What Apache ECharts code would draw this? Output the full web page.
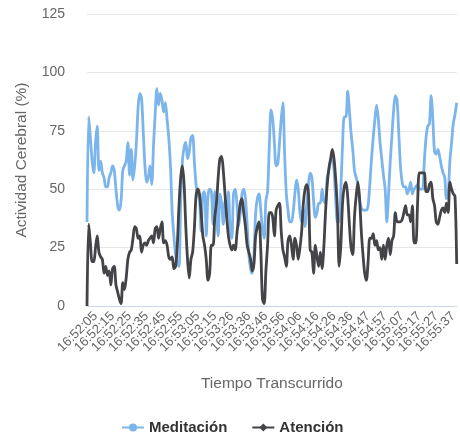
<!DOCTYPE html>
<html>
<head>
<meta charset="utf-8">
<script src="https://cdn.jsdelivr.net/npm/echarts@6/dist/echarts.min.js"></script>
<style>
  html, body { margin: 0; padding: 0; background: #fff; }
  #chart { width: 460px; height: 435px; }
</style>
</head>
<body>
<div id="chart"></div>
<script>
// etiquetas visibles del eje X (una cada 10 muestras, empezando en la muestra 5)
var tickLabels = ['16:52:05', '16:52:15', '16:52:25', '16:52:35', '16:52:45', '16:52:55',
    '16:53:05', '16:53:15', '16:53:26', '16:53:36', '16:53:46', '16:53:56',
    '16:54:06', '16:54:16', '16:54:26', '16:54:36', '16:54:47', '16:54:57',
    '16:55:07', '16:55:17', '16:55:27', '16:55:37'];
var firstTick = 5;
var tickStep = 10;

var meditacion = [
    36, 81, 72, 62, 57, 70, 77, 58, 62, 57, 55, 51, 51, 55, 57, 60, 58, 50, 43, 41,
    45, 58, 60, 62, 70, 56, 67, 54, 60, 70, 85, 91, 89, 75, 60, 53, 55, 60, 52, 68,
    82, 93, 86, 91, 88, 83, 87, 80, 72, 60, 40, 30, 22, 18, 17, 45, 62, 68, 70, 63,
    66, 72, 73, 62, 52, 48, 46, 32, 48, 49, 30, 47, 50, 49, 35, 49, 40, 30, 48, 44,
    35, 45, 38, 49, 33, 29, 48, 50, 44, 34, 40, 48, 50, 46, 35, 22, 16, 14, 22, 40,
    46, 48, 41, 33, 29, 45, 49, 68, 84, 80, 70, 60, 61, 70, 80, 87, 65, 48, 41, 36,
    36, 40, 48, 54, 50, 40, 36, 42, 34, 44, 52, 57, 55, 45, 38, 40, 44, 44, 50, 45,
    44, 55, 58, 62, 63, 58, 45, 36, 36, 50, 69, 81, 81, 92, 84, 74, 67, 58, 55, 52,
    45, 42, 41, 41, 41, 43, 52, 63, 72, 80, 86, 80, 70, 63, 56, 50, 36, 48, 62, 73,
    84, 90, 88, 74, 60, 53, 51, 51, 48, 50, 53, 48, 50, 51, 52, 50, 50, 50, 62, 72,
    77, 78, 90, 80, 66, 65, 67, 64, 60, 57, 55, 46, 48, 62, 70, 78, 82, 87
];
var atencion = [
    0, 35, 27, 19, 19, 25, 30, 23, 21, 20, 14, 17, 13, 15, 9, 16, 17, 9, 6, 3,
    1, 10, 7, 12, 20, 23, 24, 29, 34, 33, 29, 30, 23, 26, 27, 26, 28, 29, 30, 27,
    33, 34, 29, 33, 36, 27, 28, 26, 21, 20, 21, 16, 17, 26, 43, 55, 60, 52, 34, 20,
    12, 20, 23, 33, 47, 50, 48, 40, 30, 26, 20, 11, 14, 26, 26, 38, 44, 55, 63, 64,
    58, 48, 38, 30, 26, 24, 26, 24, 31, 38, 44, 46, 40, 34, 26, 23, 20, 15, 18, 30,
    34, 36, 24, 3, 1, 15, 26, 40, 40, 38, 30, 41, 43, 44, 32, 24, 21, 17, 28, 30,
    26, 20, 29, 26, 20, 25, 32, 44, 50, 52, 48, 24, 23, 14, 26, 21, 17, 23, 16, 25,
    40, 52, 59, 63, 67, 63, 54, 41, 17, 26, 44, 51, 53, 47, 35, 25, 22, 38, 47, 53,
    46, 32, 22, 14, 11, 19, 29, 29, 31, 26, 28, 24, 25, 20, 26, 20, 26, 29, 22, 28,
    30, 40, 36, 36, 36, 37, 40, 43, 39, 39, 36, 43, 27, 27, 43, 57, 57, 57, 57, 49,
    49, 52, 53, 46, 43, 36, 35, 38, 41, 42, 40, 44, 40, 53, 50, 48, 47, 18
];

// categorías: una por muestra, con la hora solo en las posiciones etiquetadas
var categorias = meditacion.map(function (v, i) {
    var k = (i - firstTick) / tickStep;
    return (i >= firstTick && k === Math.floor(k) && tickLabels[k]) ? tickLabels[k] : String(i);
});
var ultimo = categorias.length - 1;

var dom = document.getElementById('chart');
var myChart = echarts.init(dom);

var option = {
    animation: false,
    color: ['#7cb5ec', '#434348'],
    textStyle: { fontFamily: '"Liberation Sans", Arial, sans-serif' },
    grid: {
        left: 87,
        right: 1,
        top: 14,
        bottom: 129
    },
    legend: {
        top: 415,
        left: 116,
        itemGap: 24,
        itemWidth: 22,
        itemHeight: 10,
        textStyle: { color: '#333', fontSize: 15, fontWeight: 'bold' },
        data: ['Meditación', 'Atención']
    },
    xAxis: {
        type: 'category',
        boundaryGap: false,
        data: categorias,
        name: 'Tiempo Transcurrido',
        nameLocation: 'middle',
        nameGap: 70,
        nameTextStyle: { color: '#666', fontSize: 15.5 },
        axisLine: { lineStyle: { color: '#ccd6eb' } },
        axisTick: { show: false },
        axisLabel: {
            rotate: 45,
            color: '#666',
            fontSize: 13,
            margin: 8,
            // los extremos vacíos evitan que se oculten la primera y la última hora
            interval: function (i) {
                return i === 0 || i === ultimo ||
                    (i >= firstTick && (i - firstTick) % tickStep === 0);
            },
            formatter: function (value, i) {
                return (i === 0 || i === ultimo) ? '' : value;
            }
        },
        splitLine: { show: false }
    },
    yAxis: {
        type: 'value',
        min: 0,
        max: 125,
        interval: 25,
        name: 'Actividad Cerebral (%)',
        nameLocation: 'middle',
        nameGap: 57,
        nameTextStyle: { color: '#666', fontSize: 15.5 },
        axisLine: { show: false },
        axisTick: { show: false },
        axisLabel: { color: '#666', fontSize: 14, margin: 22 },
        splitLine: { lineStyle: { color: '#e6e6e6' } }
    },
    series: [
        {
            name: 'Meditación',
            type: 'line',
            data: meditacion,
            symbol: 'circle',
            symbolSize: 9,
            showSymbol: false,
            smooth: 0.3,
            lineStyle: { width: 2.8 }
        },
        {
            name: 'Atención',
            type: 'line',
            data: atencion,
            symbol: 'diamond',
            symbolSize: 10,
            showSymbol: false,
            smooth: 0.3,
            lineStyle: { width: 2.8 }
        }
    ]
};

myChart.setOption(option, true);
window.onresize = function () {
    myChart.resize();
};
</script>
</body>
</html>
